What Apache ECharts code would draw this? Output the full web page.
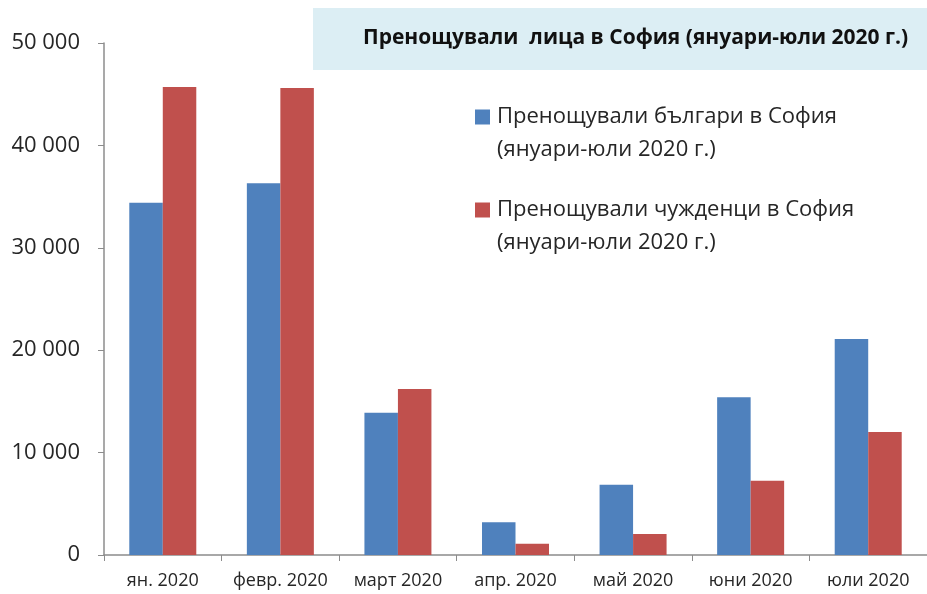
<!DOCTYPE html>
<html>
<head>
<meta charset="utf-8">
<script src="https://cdn.jsdelivr.net/npm/echarts@6/dist/echarts.min.js"></script>
<style>html,body{margin:0;padding:0;background:#fff}#c{width:927px;height:594px}</style>
</head>
<body>
<div id="c"></div>
<script>
var categories = ['ян. 2020', 'февр. 2020', 'март 2020', 'апр. 2020', 'май 2020', 'юни 2020', 'юли 2020'];
var bulgarians = [34400, 36300, 13900, 3200, 6850, 15400, 21100];
var foreigners = [45700, 45600, 16200, 1100, 2050, 7250, 12000];
var seriesNames = ['Пренощували българи в София', 'Пренощували чужденци в София'];
var legendSecondLine = '(януари-юли 2020 г.)';
var titleText = 'Пренощували  лица в София (януари-юли 2020 г.)';
var yTicks = [0, 10000, 20000, 30000, 40000, 50000];

var FONT = '"Open Sans", sans-serif';
var chart = echarts.init(document.getElementById('c'));
chart.setOption({
  animation: false,
  backgroundColor: '#ffffff',
  color: ['#4F81BD', '#C0504D'],
  graphic: [
    {type: 'rect', z: -1, shape: {x: 313, y: 8, width: 614, height: 62}, style: {fill: '#DCEEF4'}},
    {type: 'text', left: 497, top: 139, style: {text: legendSecondLine, fontFamily: FONT, fontSize: 22, fill: '#262626'}},
    {type: 'text', left: 497, top: 232, style: {text: legendSecondLine, fontFamily: FONT, fontSize: 22, fill: '#262626'}}
  ],
  title: {
    text: titleText,
    left: 363, top: 28, padding: 0,
    textStyle: {fontFamily: FONT, fontSize: 21, fontWeight: 'bold', color: '#111111'}
  },
  legend: [
    {data: [seriesNames[0]], orient: 'vertical', left: 475, top: 105, padding: 0, itemWidth: 15, itemHeight: 15, itemGap: 0,
     icon: 'rect', textStyle: {fontFamily: FONT, fontSize: 22, color: '#262626', lineHeight: 24, padding: [0,0,0,2]}},
    {data: [seriesNames[1]], orient: 'vertical', left: 475, top: 198, padding: 0, itemWidth: 15, itemHeight: 15, itemGap: 0,
     icon: 'rect', textStyle: {fontFamily: FONT, fontSize: 22, color: '#262626', lineHeight: 24, padding: [0,0,0,2]}}
  ],
  grid: {left: 104, top: 43, width: 828, height: 512, containLabel: false},
  xAxis: {
    type: 'category',
    data: categories,
    axisLine: {lineStyle: {color: '#8c8c8c', width: 1.5}},
    axisTick: {show: true, length: 6, lineStyle: {color: '#8c8c8c'}},
    axisLabel: {interval: 0, fontFamily: FONT, fontSize: 18, color: '#262626', margin: 17}
  },
  yAxis: {
    type: 'value', min: 0, max: 50000, interval: 10000,
    splitLine: {show: false},
    axisLine: {show: true, lineStyle: {color: '#8c8c8c', width: 1.5}},
    axisTick: {show: true, length: 6, lineStyle: {color: '#8c8c8c'}},
    axisLabel: {fontFamily: FONT, fontSize: 22, color: '#262626', margin: 24,
      formatter: function (v) { return v === 0 ? '0' : String(v).replace(/\B(?=(\d{3})+(?!\d))/g, ' '); }}
  },
  series: [
    {name: seriesNames[0], type: 'bar', data: bulgarians, barWidth: 33.5, barGap: '0%', itemStyle: {color: '#4F81BD'}},
    {name: seriesNames[1], type: 'bar', data: foreigners, barWidth: 33.5, barGap: '0%', itemStyle: {color: '#C0504D'}}
  ]
});
</script>
</body>
</html>
